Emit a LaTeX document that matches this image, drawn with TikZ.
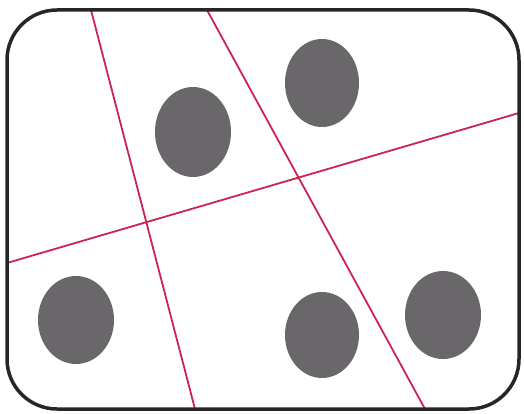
\documentclass[tikz,border=0pt]{standalone}
\usepackage{xcolor}
\usetikzlibrary{positioning}

\definecolor{cutred}{RGB}{205,35,80}
\definecolor{dotgray}{RGB}{105,103,105}

\tikzset{
  frame/.style={line width=3.5pt, draw=black!85, rounded corners=50pt},
  cutline/.style={line width=1.8pt, cutred},
  blob/.style={fill=dotgray}
}

\begin{document}
\begin{tikzpicture}[x=1pt, y=-1pt]
\useasboundingbox (0,0) rectangle (524,414);

% Frame
\coordinate (tl) at (7,10);
\coordinate (br) at (519,409);

% Cutting lines
\coordinate (a1) at (91,10);
\coordinate (a2) at (195,409);
\coordinate (b1) at (207,10);
\coordinate (b2) at (425,409);
\coordinate (c1) at (7,263);
\coordinate (c2) at (519,113);
\draw[cutline] (a1) -- (a2);
\draw[cutline] (b1) -- (b2);
\draw[cutline] (c1) -- (c2);

% Blobs
\fill[blob] (193,132) ellipse (38 and 45);
\fill[blob] (322,83) ellipse (37 and 44);
\fill[blob] (76,320) ellipse (38 and 44);
\fill[blob] (322,335) ellipse (37 and 43);
\fill[blob] (443,315) ellipse (38 and 44);

\draw[frame] (tl) rectangle (br);
\end{tikzpicture}
\end{document}
